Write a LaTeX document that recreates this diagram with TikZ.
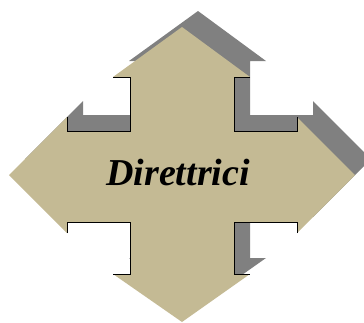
\documentclass[tikz,border=0pt]{standalone}
\usepackage{fontspec}
\setmainfont{Liberation Serif}
\definecolor{tanfill}{HTML}{C4BA94}
\definecolor{shadowgray}{HTML}{808080}
\begin{document}
\begin{tikzpicture}[x=1pt,y=-1pt,
  notchline/.style={draw=black,line width=1pt,line cap=butt,line join=miter},
  labeltext/.style={font=\fontsize{38}{44}\selectfont\bfseries\itshape,inner sep=0pt,anchor=base}]
\useasboundingbox (0,0) rectangle (364,322);
\clip (0,0) rectangle (364,322);
\def\crosspath{(182,27) -- (250,77) -- (234,77) -- (234,131) -- (297,131) -- (297,117) -- (355,175) -- (297,233) -- (297,222) -- (234,222) -- (234,274) -- (250,274) -- (182,322) -- (113,274) -- (130,274) -- (130,222) -- (67,222) -- (67,233) -- (9,175) -- (67,117) -- (67,131) -- (130,131) -- (130,77) -- (113,77) -- cycle}
% shadow
\fill[shadowgray,shift={(16,-16)}] \crosspath;
% main shape
\fill[tanfill] \crosspath;
% notch outlines
\draw[notchline] (113,77) -- (130,77) -- (130,131) -- (67,131) -- (67,117);
\draw[notchline] (250,77) -- (234,77) -- (234,131) -- (297,131) -- (297,117);
\draw[notchline] (67,233) -- (67,222) -- (130,222) -- (130,274) -- (113,274);
\draw[notchline] (297,233) -- (297,222) -- (234,222) -- (234,274) -- (250,274);
\node[labeltext] (label) at (178,185) {Direttrici};
\end{tikzpicture}
\end{document}
